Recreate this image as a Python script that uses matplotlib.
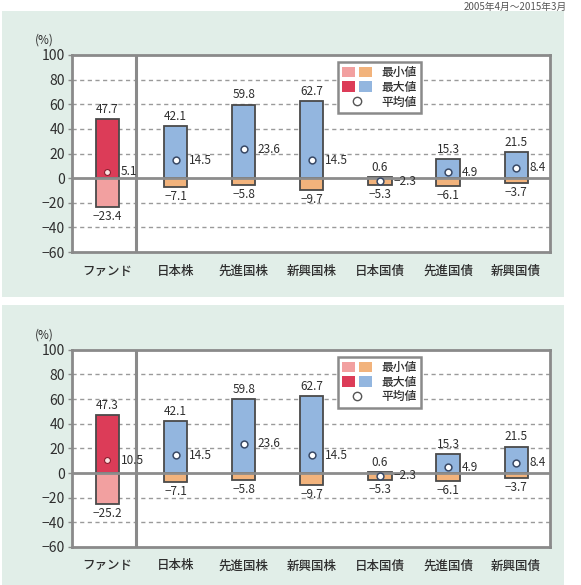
import matplotlib.pyplot as plt
from matplotlib.patches import Patch, Rectangle
from matplotlib.lines import Line2D
from matplotlib.legend_handler import HandlerTuple
import numpy as np

plt.rcParams['font.family'] = ['Noto Sans CJK JP', 'DejaVu Sans']

# Data
categories = ["ファンド", "日本株", "先進国株", "新興国株", "日本国債", "先進国債", "新興国債"]
max_top = [47.7, 42.1, 59.8, 62.7, 0.6, 15.3, 21.5]
min_top = [-23.4, -7.1, -5.8, -9.7, -5.3, -6.1, -3.7]
avg_top = [5.1, 14.5, 23.6, 14.5, -2.3, 4.9, 8.4]

max_bottom = [47.3, 42.1, 59.8, 62.7, 0.6, 15.3, 21.5]
min_bottom = [-25.2, -7.1, -5.8, -9.7, -5.3, -6.1, -3.7]
avg_bottom = [10.5, 14.5, 23.6, 14.5, -2.3, 4.9, 8.4]

period_note = "2005年4月～2015年3月"

# Colours
bg_green = "#e1eee8"
fund_max_c = "#dc3c58"
fund_min_c = "#f2a0a0"
asset_max_c = "#93b6df"
asset_min_c = "#f2b37c"
edge_c = "#4a4a4a"
frame_c = "#8a8a8a"
text_c = "#2e2e2e"

fig = plt.figure(figsize=(5.81, 5.85), dpi=100)

# green panel backgrounds
fig.patches.append(Rectangle((0.004, 0.492), 0.966, 0.49, transform=fig.transFigure,
                             facecolor=bg_green, edgecolor="none", zorder=-10))
fig.patches.append(Rectangle((0.004, 0.0), 0.966, 0.478, transform=fig.transFigure,
                             facecolor=bg_green, edgecolor="none", zorder=-10))

fig.text(0.975, 0.997, period_note, ha="right", va="top", fontsize=7, color="#555555")


def fmt(v):
    return f"{v:.1f}".replace("-", "−")


def draw_panel(ax, mx, mn, av):
    x = np.arange(len(categories))
    w = 0.34
    max_cols = [fund_max_c] + [asset_max_c] * (len(x) - 1)
    min_cols = [fund_min_c] + [asset_min_c] * (len(x) - 1)
    ax.bar(x, mx, width=w, color=max_cols, edgecolor=edge_c, linewidth=1.3, zorder=3)
    ax.bar(x, mn, width=w, color=min_cols, edgecolor=edge_c, linewidth=1.3, zorder=3)
    ax.scatter(x[1:], av[1:], s=24, facecolor="white", edgecolor="#3a4a66",
               linewidth=1.1, zorder=5)
    ax.scatter(x[:1], av[:1], s=18, facecolor="#fbe2e2", edgecolor="#8a1f30",
               linewidth=0.8, zorder=5)

    for i in range(len(x)):
        ax.text(x[i], max(mx[i], 0) + 2.5, fmt(mx[i]), ha="center", va="bottom",
                fontsize=8.5, color=text_c, zorder=6)
        ax.text(x[i], mn[i] - 2.5, fmt(mn[i]), ha="center", va="top",
                fontsize=8.5, color=text_c, zorder=6)
        ax.text(x[i] + w / 2 + 0.03, av[i], fmt(av[i]), ha="left", va="center",
                fontsize=8.5, color=text_c, zorder=6)

    ax.set_xlim(-0.52, 6.5)
    ax.set_ylim(-60, 100)
    ax.set_yticks(np.arange(-60, 101, 20))
    ax.set_yticklabels([str(t).replace("-", "−") for t in range(-60, 101, 20)])
    ax.set_xticks(x)
    ax.set_xticklabels(categories, fontweight="medium")
    ax.tick_params(axis="x", length=0, pad=9, labelsize=9, colors=text_c)
    ax.tick_params(axis="y", length=3, width=1, color=frame_c, labelsize=10,
                   colors=text_c, pad=2)

    for y in [80, 60, 40, 20, -20, -40]:
        ax.axhline(y, color="#9a9a9a", linestyle=(0, (3, 2.5)), linewidth=1.0, zorder=1)
    ax.axhline(0, color="#8c8c8c", linewidth=2, zorder=4)
    ax.axvline(0.42, color=frame_c, linewidth=2.2, zorder=2)

    for s in ax.spines.values():
        s.set_color(frame_c)
        s.set_linewidth(2)
    ax.set_facecolor("white")
    ax.text(-0.058, 1.075, "(%)", transform=ax.transAxes, ha="center", va="center",
            fontsize=8.5, color=text_c)

    handles = [
        (Patch(facecolor=fund_min_c, edgecolor="none"), Patch(facecolor=asset_min_c, edgecolor="none")),
        (Patch(facecolor=fund_max_c, edgecolor="none"), Patch(facecolor=asset_max_c, edgecolor="none")),
        Line2D([], [], marker="o", linestyle="none", markerfacecolor="white",
               markeredgecolor="#555555", markersize=6),
    ]
    leg = ax.legend(handles, ["最小値", "最大値", "平均値"],
                    handler_map={tuple: HandlerTuple(ndivide=None, pad=0.35)},
                    loc="upper left", bbox_to_anchor=(0.543, 0.995), fontsize=8.5,
                    handlelength=2.6, handleheight=1.0, labelspacing=0.15,
                    borderpad=0.35, handletextpad=0.8, fancybox=False,
                    framealpha=1, edgecolor=frame_c)
    leg.get_frame().set_linewidth(1.8)
    for t in leg.get_texts():
        t.set_color(text_c)
        t.set_fontweight("medium")
    leg.set_zorder(7)


ax1 = fig.add_axes([0.124, 0.569, 0.823, 0.337])
draw_panel(ax1, max_top, min_top, avg_top)

ax2 = fig.add_axes([0.124, 0.065, 0.823, 0.337])
draw_panel(ax2, max_bottom, min_bottom, avg_bottom)

fig.savefig("out.png", dpi=100)
